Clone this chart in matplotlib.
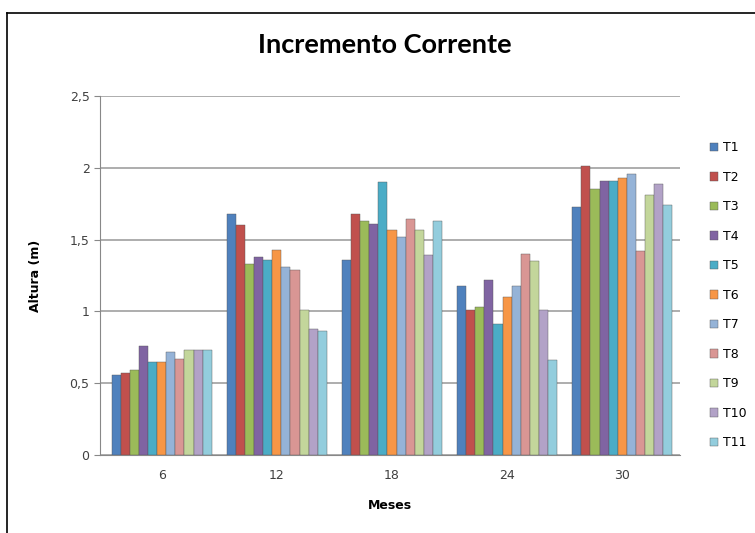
import matplotlib.pyplot as plt
import numpy as np
from matplotlib.lines import Line2D

months = ["6", "12", "18", "24", "30"]
series = ["T1", "T2", "T3", "T4", "T5", "T6", "T7", "T8", "T9", "T10", "T11"]

t1 = [0.56, 1.68, 1.36, 1.18, 1.73]
t2 = [0.57, 1.60, 1.68, 1.01, 2.01]
t3 = [0.59, 1.33, 1.63, 1.03, 1.85]
t4 = [0.76, 1.38, 1.61, 1.22, 1.91]
t5 = [0.65, 1.36, 1.90, 0.91, 1.91]
t6 = [0.65, 1.43, 1.57, 1.10, 1.93]
t7 = [0.72, 1.31, 1.52, 1.18, 1.96]
t8 = [0.67, 1.29, 1.64, 1.40, 1.42]
t9 = [0.73, 1.01, 1.57, 1.35, 1.81]
t10 = [0.73, 0.88, 1.39, 1.01, 1.89]
t11 = [0.73, 0.86, 1.63, 0.66, 1.74]
values = [t1, t2, t3, t4, t5, t6, t7, t8, t9, t10, t11]

colors = ["#4F81BD", "#C0504D", "#9BBB59", "#8064A2", "#4BACC6", "#F79646",
          "#95B3D7", "#D99694", "#C3D69B", "#B2A2C7", "#93CDDD"]

fig = plt.figure(figsize=(7.55, 5.33), dpi=100)
ax = fig.add_axes([0.1325, 0.1463, 0.768, 0.6737])

n = len(series)
group_w = 0.87
w = group_w / n
x = np.arange(len(months))
for i, (name, vals, c) in enumerate(zip(series, values, colors)):
    pos = x - group_w / 2 + w * (i + 0.5)
    ax.bar(pos, vals, width=w, color=c, edgecolor="#555555", linewidth=0.3,
           label=name, zorder=3)

ax.set_xlim(-0.535, len(months) - 0.5)
ax.set_ylim(0, 2.5)
ax.set_yticks([0, 0.5, 1, 1.5, 2, 2.5])
ax.set_yticklabels(["0", "0,5", "1", "1,5", "2", "2,5"])
ax.set_xticks(x)
ax.set_xticklabels(months)
ax.tick_params(axis="both", labelsize=9, colors="#404040", length=0)
ax.tick_params(axis="x", pad=10)
ax.tick_params(axis="y", length=4, color="#888888")
ax.yaxis.grid(True, color="#a0a0a0", linewidth=1.2, zorder=0)
for s in ["top", "right"]:
    ax.spines[s].set_visible(False)
ax.spines["left"].set_color("#888888")
ax.spines["bottom"].set_color("#888888")

ax.set_ylabel("Altura (m)", fontsize=9, fontweight="bold", labelpad=20)
ax.set_xlabel("Meses", fontsize=9, fontweight="bold", labelpad=12)

fig.text(0.51, 0.915, "Incremento Corrente", ha="center", va="center",
         fontsize=19.5, fontweight="bold", family=["Lato", "DejaVu Sans"])

ax.legend(loc="upper left", bbox_to_anchor=(1.032, 0.905), frameon=False,
          fontsize=9, handlelength=0.7, handleheight=0.7, handletextpad=0.4,
          labelspacing=1.32)

# outer chart border (left and top edges visible)
fig.add_artist(Line2D([0.0093, 0.0093], [0, 0.976], color="black", lw=1.2))
fig.add_artist(Line2D([0.0093, 1.0], [0.976, 0.976], color="black", lw=1.2))

fig.savefig("out.png", dpi=100)
